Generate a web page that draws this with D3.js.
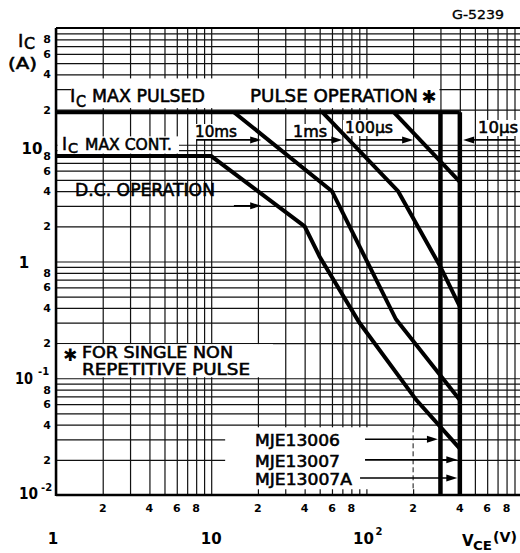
<!DOCTYPE html>
<html><head><meta charset="utf-8">
<script src="https://cdn.jsdelivr.net/npm/d3@7"></script>
<style>body{margin:0;background:#fff}svg{display:block}</style>
</head><body><svg id="c" width="520" height="553"></svg>
<script>
// ---------------- data ----------------
const xMinorTicks = [2,4,6,8,20,40,60,80,200,400,600,800];
const xMinorLabels = ["2","4","6","8","2","4","6","8","2","4","6","8"];
const yMinorTicks = [0.02,0.04,0.06,0.08,0.2,0.4,0.6,0.8,2,4,6,8,20,40,60,80];
const yMinorLabels = ["2","4","6","8","2","4","6","8","2","4","6","8","2","4","6","8"];

const icMaxPulsed = 19;      // A
const icMaxCont = 8;         // A
const vceoMJE13006 = 300;    // V
const vceoMJE13007 = 400;    // V

const dcV = [1, 10, 40, 50, 90, 210, 400];
const dcI = [8, 8, 2, 1.1, 0.3, 0.065, 0.025];
const ms10V = [14, 60, 155, 400];
const ms10I = [19, 4, 0.32, 0.065];
const ms1V = [52, 160, 300, 400];
const ms1I = [19, 4, 0.9, 0.41];
const us100V = [150, 400];
const us100I = [19, 4.8];

const pulseLabels = ["10ms", "1ms", "100\u00b5s", "10\u00b5s"];
const pulseArrowFromV = [8, 30, 90, 900];
const pulseArrowToV = [21, 70, 200, 420];
const pulseArrowI = 11;

const deviceLabels = ["MJE13006", "MJE13007", "MJE13007A"];
const deviceArrowFromV = [98, 98, 91];
const deviceArrowToV = [vceoMJE13006, vceoMJE13007, vceoMJE13007];
const deviceArrowI = [0.03, 0.02, 0.014];

// ---------------- scales ----------------
const svg = d3.select("#c");
const X0 = 1, X1 = 1000, Y0 = 0.01, Y1 = 100;
const x = d3.scaleLog().domain([X0, X1]).range([56, 521.6]);
const y = d3.scaleLog().domain([Y0, Y1]).range([495, 28]);
const FONT = "DejaVu Sans";

// ---------------- grid ----------------
const grid = svg.append("g");
grid.append("g").attr("transform", `translate(0,${y(Y0)})`)
  .call(d3.axisBottom(x).tickSizeInner(-(y(Y0) - y(Y1))).tickSizeOuter(0).tickFormat(""))
  .call(g => g.select(".domain").remove())
  .selectAll("line").attr("stroke", "#111").attr("stroke-width", 1.2);
grid.append("g").attr("transform", `translate(${x(X0)},0)`)
  .call(d3.axisRight(y).tickSizeInner(x(X1) - x(X0)).tickSizeOuter(0).tickFormat(""))
  .call(g => g.select(".domain").remove())
  .selectAll("line").attr("stroke", "#111").attr("stroke-width", 1.2);

// white label areas on the chart paper
function blank(v0, v1, i0, i1, pad) {
  const p = pad || [0, 0, 0, 0];
  svg.append("rect")
    .attr("x", x(v0) + p[0]).attr("width", x(v1) - x(v0) - p[0] - p[1])
    .attr("y", y(i1) + p[2]).attr("height", y(i0) - y(i1) - p[2] - p[3])
    .attr("fill", "#fff");
}
blank(1.25, 300, 20, 37, [0, 1, 0, 1.5]);       // I_C MAX PULSED / PULSE OPERATION
blank(1, 6.2, 8, 11.8, [1.5, 0, 0, 2.5]);       // I_C MAX CONT.
blank(1, 25, 0.1, 0.2, [1.5, 0, 1, 1]);          // note box
blank(12.3, 300, 0.0112, 0.038, [0, 1, 0, 0]);  // device labels
svg.append("line").attr("x1", x(200)).attr("x2", x(200))
  .attr("y1", y(0.038)).attr("y2", y(0.0112))
  .attr("stroke", "#111").attr("stroke-width", 1).attr("stroke-dasharray", "5,3");

// ---------------- frame ----------------
svg.append("line").attr("x1", x(X0)).attr("x2", x(X0)).attr("y1", y(Y1)).attr("y2", y(Y0) + 1)
  .attr("stroke", "#000").attr("stroke-width", 2.5);
svg.append("line").attr("x1", x(X0)).attr("x2", x(X1)).attr("y1", y(Y0)).attr("y2", y(Y0))
  .attr("stroke", "#000").attr("stroke-width", 2.5);
svg.append("line").attr("x1", x(X0)).attr("x2", x(X1)).attr("y1", y(Y1)).attr("y2", y(Y1))
  .attr("stroke", "#000").attr("stroke-width", 2);

// ---------------- text helpers ----------------
function txt(str, px, py, o) {
  o = o || {};
  const t = svg.append("text").attr("x", px).attr("y", py)
    .attr("font-family", o.family || FONT)
    .attr("font-size", o.size || 14)
    .attr("font-weight", o.weight || "normal")
    .attr("text-anchor", o.anchor || "start")
    .attr("fill", "#000")
    .attr("stroke", o.stroke ? "#000" : null)
    .attr("stroke-width", o.stroke || null)
    .text(str);
  if (o.len) t.attr("textLength", o.len).attr("lengthAdjust", "spacingAndGlyphs");
  return t;
}

// pulse labels with white background
const pulseTextPos = [[195, 137, 42], [293, 137, 34], [345, 133, 48], [478, 133, 40]];
pulseLabels.forEach((s, k) => {
  const [px, py, len] = pulseTextPos[k];
  svg.append("rect").attr("x", px - 2).attr("y", py - 13).attr("width", len + 4).attr("height", 16).attr("fill", "#fff");
});

// ---------------- curves ----------------
const line = d3.line().x(d => x(d[0])).y(d => y(d[1]));
function curve(vs, is, w) {
  svg.append("path").datum(vs.map((v, k) => [v, is[k]])).attr("d", line)
    .attr("fill", "none").attr("stroke", "#000").attr("stroke-width", w || 4)
    .attr("stroke-linejoin", "miter").attr("stroke-linecap", "butt");
}
curve([X0, vceoMJE13007], [icMaxPulsed, icMaxPulsed], 4);
curve([vceoMJE13006, vceoMJE13006], [icMaxPulsed, Y0], 4.5);
curve([vceoMJE13007, vceoMJE13007], [icMaxPulsed, Y0], 4.5);
curve(dcV, dcI, 4);
curve(ms10V, ms10I, 4);
curve(ms1V, ms1I, 4);
curve(us100V, us100I, 4);

// ---------------- arrows ----------------
function arrow(x1, x2, yy) {
  const dir = Math.sign(x2 - x1);
  svg.append("line").attr("x1", x1).attr("x2", x2 - dir * 8).attr("y1", yy).attr("y2", yy)
    .attr("stroke", "#000").attr("stroke-width", 1.6);
  svg.append("path").attr("d", `M${x2},${yy}L${x2 - dir * 11},${yy - 3.5}L${x2 - dir * 11},${yy + 3.5}Z`)
    .attr("fill", "#000");
}
pulseLabels.forEach((s, k) => arrow(x(pulseArrowFromV[k]), x(pulseArrowToV[k]), y(pulseArrowI)));
deviceLabels.forEach((s, k) => arrow(x(deviceArrowFromV[k]), x(deviceArrowToV[k]) - 2.5, y(deviceArrowI[k])));
arrow(x(14), x(21), y(3));

// ---------------- texts ----------------
const SW = 0.55;
pulseLabels.forEach((s, k) => {
  const [px, py, len] = pulseTextPos[k];
  txt(s, px, py, { size: 15, len: len, stroke: SW });
});

// I_C MAX PULSED
txt("I", 70, 102, { size: 18, stroke: SW });
txt("C", 76, 107, { size: 15, stroke: SW, len: 10 });
txt("MAX PULSED", 92, 102, { size: 18, len: 113, stroke: SW });
txt("PULSE OPERATION", 250, 102, { size: 18, len: 168, stroke: SW });
txt("\u2731", 429, 103, { size: 18, anchor: "middle", weight: "bold" });

// I_C MAX CONT.
txt("I", 62, 150, { size: 17, stroke: SW });
txt("C", 68, 153, { size: 14, stroke: SW, len: 10 });
txt("MAX CONT.", 85, 150, { size: 16, len: 87, stroke: SW });

txt("D.C. OPERATION", 75, 196, { size: 17, len: 140, stroke: SW });

// note
txt("\u2731", 70, 361, { size: 17, anchor: "middle", weight: "bold" });
txt("FOR SINGLE NON", 82, 358, { size: 15, len: 151, stroke: SW });
txt("REPETITIVE PULSE", 82, 375, { size: 15, len: 168, stroke: SW });

// device labels
const devTextPos = [[255, 446, 85], [255, 467, 85], [255, 485, 97]];
deviceLabels.forEach((s, k) => {
  const [px, py, len] = devTextPos[k];
  txt(s, px, py, { size: 15, len: len, stroke: SW });
});

// code number
txt("G-5239", 452, 19, { size: 12, len: 52, stroke: 0.3 });

// axis title Y
txt("I", 18, 47, { size: 18, stroke: SW });
txt("C", 24, 49, { size: 15, stroke: SW, len: 11 });
txt("(A)", 8, 69, { size: 15, stroke: SW, len: 29 });

// y tick labels
yMinorTicks.forEach((v, k) => txt(yMinorLabels[k], 47, y(v) + 4, { size: 11, weight: "bold", anchor: "middle" }));
txt("10", 32, y(10) + 9, { size: 15, weight: "bold", anchor: "middle" });
txt("1", 24, y(1) + 6, { size: 15, weight: "bold", anchor: "middle" });
txt("10", 15, y(0.1) + 6, { size: 15, weight: "bold", len: 18 });
txt("-1", 38, y(0.1) - 3, { size: 10, weight: "bold" });
txt("10", 19, y(0.01) + 4, { size: 15, weight: "bold", len: 19 });
txt("-2", 41, y(0.01) - 4, { size: 10, weight: "bold" });

// x tick labels
xMinorTicks.forEach((v, k) => txt(xMinorLabels[k], x(v), 512, { size: 11, weight: "bold", anchor: "middle" }));
txt("1", x(1) - 3, 544, { size: 15, weight: "bold", anchor: "middle" });
txt("10", x(10), 544, { size: 15, weight: "bold", anchor: "middle" });
txt("10", x(100) - 3, 544, { size: 15, weight: "bold", anchor: "middle" });
txt("2", x(100) + 9, 535, { size: 10, weight: "bold" });

// axis title X
txt("V", 462, 546, { size: 15, weight: "bold" });
txt("CE", 473, 550, { size: 12, weight: "bold", len: 19 });
txt("(V)", 493, 542, { size: 14, weight: "bold", len: 24 });
</script>
</body></html>
